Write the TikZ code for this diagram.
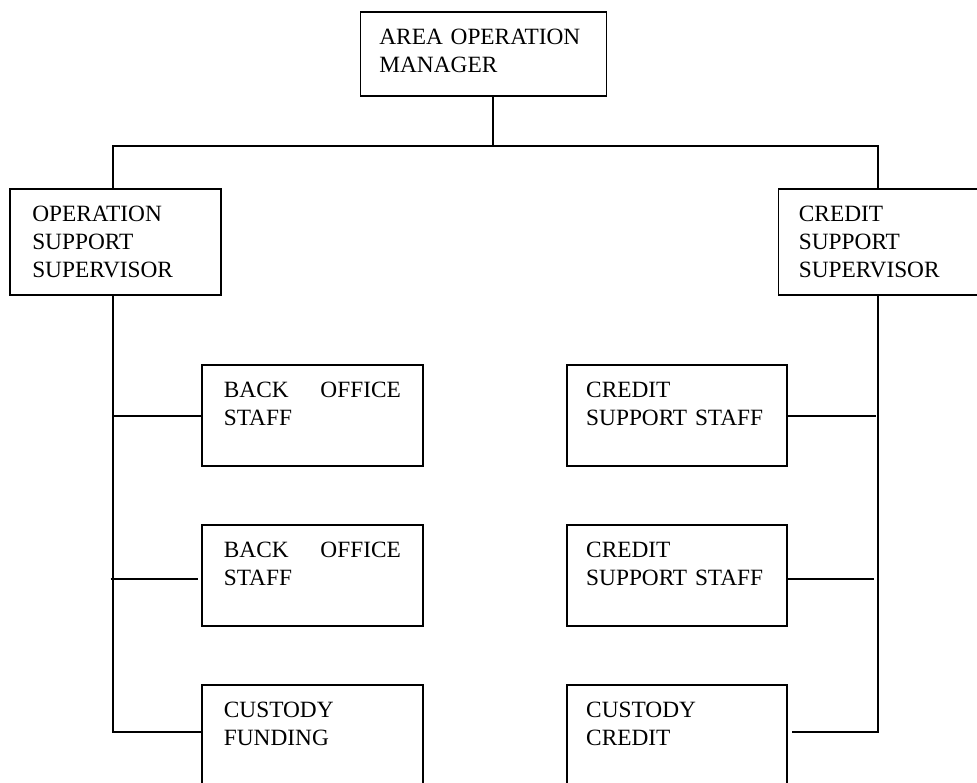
\documentclass[tikz,border=0pt]{standalone}
\usepackage{fontspec}
\setmainfont{Liberation Serif}
\tikzset{
  post/.style={draw, line width=1.3pt, anchor=north west, align=left,
    inner ysep=0pt, text height=24.75pt,
    font=\fontsize{17.5}{21}\selectfont},
  staff/.style={post, inner xsep=16.5pt, text width=132.75pt, text depth=51pt},
  link/.style={line width=1.3pt}
}
\begin{document}
\begin{tikzpicture}[x=0.75pt,y=-0.75pt]
\useasboundingbox (0,0) rectangle (977,782);
\clip (0,0) rectangle (977,782);
\node[post, inner xsep=14.25pt, text width=156pt, text depth=38.25pt] (aom) at (359.5,11) {AREA OPERATION\\MANAGER};
\node[post, inner xsep=16.8pt, text width=125pt, text depth=54.75pt] (oss) at (9,188) {OPERATION\\SUPPORT\\SUPERVISOR};
\node[post, inner xsep=15.4pt, text width=127.8pt, text depth=54.75pt] (css) at (777.5,188) {CREDIT\\SUPPORT\\SUPERVISOR};
\node[staff] (bo1) at (201,364) {BACK\hfill OFFICE\\STAFF};
\node[staff] (bo2) at (201,524) {BACK\hfill OFFICE\\STAFF};
\node[staff] (cf) at (201,684) {CUSTODY\\FUNDING};
\node[staff, inner xsep=14.5pt, text width=136pt] (cs1) at (566,364) {CREDIT\\SUPPORT STAFF};
\node[staff, inner xsep=14.5pt, text width=136pt] (cs2) at (566,524) {CREDIT\\SUPPORT STAFF};
\node[staff, inner xsep=14.5pt, text width=136pt] (cc) at (566,684) {CUSTODY\\CREDIT};
\coordinate (tj) at (493,146);
\coordinate (lj) at (113,146);
\coordinate (rj) at (878,146);
\coordinate (lb) at (113,732);
\coordinate (rb) at (878,732);
\coordinate (l1) at (113,416);
\coordinate (l2) at (110.5,579);
\coordinate (r1) at (876,416);
\coordinate (r2) at (873.5,579);
\draw[link] (aom.south -| tj) -- (tj);
\draw[link] (oss.north -| lj) -- (lj) -- (rj) -- (css.north -| rj);
\draw[link] (oss.south -| lj) -- (lb) -- (cf.west |- lb);
\draw[link] (css.south -| rj) -- (rb) -- ([xshift=3pt]cc.east |- rb);
\draw[link] (l1) -- (bo1.west |- l1);
\draw[link] (l2) -- ([xshift=-2.5pt]bo2.west |- l2);
\draw[link] (cs1.east |- r1) -- (r1);
\draw[link] (cs2.east |- r2) -- (r2);
\end{tikzpicture}
\end{document}
